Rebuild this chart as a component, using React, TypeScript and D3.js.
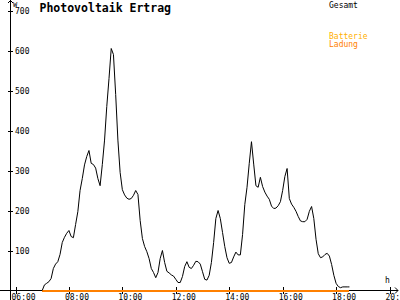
import React from "react";
import * as d3 from "d3";

const title = "Photovoltaik Ertrag";
const startMinutes = 7 * 60; // 07:00
const stepMinutes = 5;
// Gesamt [W], every 5 minutes from 07:00 to 18:30
const gesamt = [
  0, 14, 18, 22, 30, 55, 66, 72, 90, 120,
  133, 143, 150, 135, 132, 165, 197, 250, 280, 314,
  335, 350, 318, 315, 306, 280, 262, 315, 376, 460,
  530, 605, 590, 490, 376, 295, 252, 239, 231, 228,
  230, 238, 250, 240, 175, 130, 110, 97, 80, 55,
  45, 32, 45, 80, 100, 70, 48, 44, 39, 36,
  28, 20, 20, 35, 60, 72, 58, 55, 63, 73,
  72, 66, 47, 28, 26, 38, 70, 120, 180, 200,
  180, 145, 110, 82, 68, 70, 84, 96, 89, 89,
  140, 215, 258, 318, 372, 316, 262, 258, 283, 260,
  246, 236, 228, 211, 205, 206, 212, 222, 250, 285,
  305, 230, 216, 208, 198, 185, 174, 172, 172, 178,
  198, 210, 180, 128, 92, 82, 84, 90, 93, 86,
  65, 38, 18, 10, 7, 9, 9, 9, 9,
];
// Batterie Ladung [W]
const ladung = gesamt.map(() => 0);
const yTicks = [100, 200, 300, 400, 500, 600, 700];
const xTickHours = [6, 8, 10, 12, 14, 16, 18, 20];
const xTickLabels = ["06:00", "08:00", "10:00", "12:00", "14:00", "16:00", "18:00", "20:00"];

const W = 400;
const H = 300;

export default function App() {
  const x = d3.scaleLinear().domain([6 * 60, 20 * 60]).range([15.5, 389.5]);
  const y = d3.scaleLinear().domain([0, 700]).range([290.5, 10.5]);
  const t = (i: number) => startMinutes + i * stepMinutes;

  const line = d3
    .line<number>()
    .x((_, i) => x(t(i)))
    .y((d) => y(d));

  const font = "'DejaVu Sans Mono', monospace";

  return (
    <svg
      width={W}
      height={H}
      style={{ position: "absolute", left: 0, top: 0, background: "#fff" }}
      fontFamily={font}
    >
      <rect x={0} y={0} width={W} height={H} fill="#fff" />
      {/* Title */}
      <text x={39.5} y={11.7} fontSize={11.5} fontWeight="bold" fill="#000">
        {title}
      </text>
      {/* Legend */}
      <text x={329} y={7.5} fontSize={8} fill="#000">Gesamt</text>
      <text x={329} y={38.8} fontSize={8} fill="#FFB000">Batterie</text>
      <text x={329} y={46.8} fontSize={8} fill="#FF8000">Ladung</text>

      {/* Y axis */}
      <line x1={10.5} y1={0} x2={10.5} y2={300} stroke="#000" shapeRendering="crispEdges" />
      <polyline points="8,3 10.5,0.5 13,3" fill="none" stroke="#000" strokeWidth={1} />
      <text x={13} y={6.5} fontSize={7} fill="#000">W</text>
      {yTicks.map((v) => (
        <g key={v}>
          <line x1={8} x2={13} y1={Math.round(y(v)) + 0.5} y2={Math.round(y(v)) + 0.5} stroke="#000" shapeRendering="crispEdges" />
          <text x={15} y={y(v) + 3} fontSize={8} fill="#000">{v}</text>
        </g>
      ))}

      {/* X axis */}
      <line x1={0} y1={290.5} x2={398} y2={290.5} stroke="#000" shapeRendering="crispEdges" />
      <polyline points="395,287.5 398,290.5 395,293.5" fill="none" stroke="#000" strokeWidth={1} />
      <text x={385} y={283} fontSize={8} fill="#000">h</text>
      {xTickHours.map((h, k) => (
        <g key={h}>
          <line
            x1={Math.round(x(h * 60)) + 0.5}
            x2={Math.round(x(h * 60)) + 0.5}
            y1={287}
            y2={294}
            stroke="#000"
            shapeRendering="crispEdges"
          />
          <text x={x(h * 60) - 4} y={300} fontSize={8} fill="#000">{xTickLabels[k]}</text>
        </g>
      ))}

      {/* Batterie Ladung series */}
      <path
        d={d3.line<number>().x((_, i) => x(t(i))).y((d) => y(d) + 0.5)(ladung) || ""}
        fill="none"
        stroke="#FF8000"
        strokeWidth={2}
        shapeRendering="crispEdges"
      />
      {/* Gesamt series */}
      <path d={line(gesamt) || ""} fill="none" stroke="#000" strokeWidth={1} />
    </svg>
  );
}
